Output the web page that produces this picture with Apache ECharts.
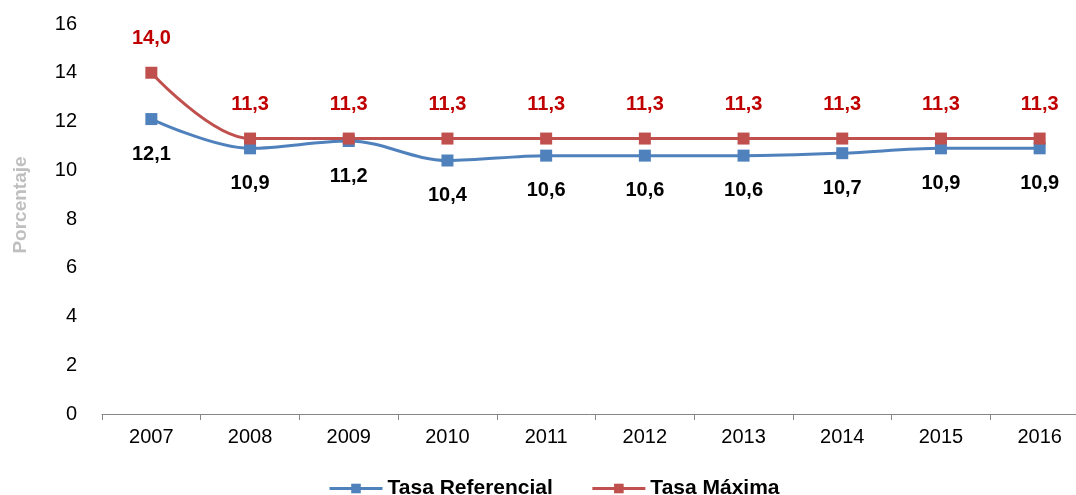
<!DOCTYPE html>
<html>
<head>
<meta charset="utf-8">
<script src="https://cdn.jsdelivr.net/npm/echarts@6/dist/echarts.min.js"></script>
<style>
html, body { margin: 0; padding: 0; background: #fff; }
#chart { width: 1076px; height: 495px; }
</style>
</head>
<body>
<div id="chart"></div>
<script>
// datos de tasas
const years = ['2007', '2008', '2009', '2010', '2011', '2012', '2013', '2014', '2015', '2016'];
const tasaReferencial = [12.1, 10.9, 11.2, 10.4, 10.6, 10.6, 10.6, 10.7, 10.9, 10.9];
const tasaMaxima = [14.0, 11.3, 11.3, 11.3, 11.3, 11.3, 11.3, 11.3, 11.3, 11.3];

const chart = echarts.init(document.getElementById('chart'));
const fmt = p => p.value.toFixed(1).replace('.', ',');

chart.setOption({
    animation: false,
    textStyle: { fontFamily: 'Liberation Sans, Arial, sans-serif' },
    grid: { left: 102, width: 987, top: 24, bottom: 81, outerBoundsMode: 'none' },
    legend: {
        top: 473,
        left: 323,
        itemWidth: 53,
        itemHeight: 12,
        itemGap: 38,
        lineStyle: { width: 3 },
        textStyle: { fontSize: 21, fontWeight: 'bold', color: '#000' },
        data: ['Tasa Referencial', 'Tasa Máxima']
    },
    xAxis: {
        type: 'category',
        data: years,
        boundaryGap: true,
        axisLine: { lineStyle: { color: '#868686', width: 1 } },
        axisTick: { show: true, length: 6, lineStyle: { color: '#868686' } },
        axisLabel: { fontSize: 20, color: '#000', margin: 13 }
    },
    yAxis: {
        type: 'value',
        min: 0,
        max: 16,
        interval: 2,
        name: 'Porcentaje',
        nameLocation: 'middle',
        nameGap: 72,
        nameRotate: 90,
        nameTextStyle: { fontSize: 19, fontWeight: 'bold', color: '#bfbfbf', padding: [0, 0, 0, 28] },
        axisLine: { show: false },
        axisTick: { show: false },
        splitLine: { show: false },
        axisLabel: { fontSize: 20, color: '#000', margin: 25 }
    },
    series: [
        {
            name: 'Tasa Referencial',
            type: 'line',
            data: tasaReferencial,
            smooth: 0.35,
            symbol: 'rect',
            symbolSize: 12,
            lineStyle: { color: '#4f81bd', width: 3 },
            itemStyle: { color: '#4f81bd' },
            label: {
                show: true,
                position: 'bottom',
                distance: 19,
                formatter: fmt,
                fontSize: 20,
                fontWeight: 'bold',
                color: '#000'
            }
        },
        {
            name: 'Tasa Máxima',
            type: 'line',
            data: tasaMaxima,
            smooth: 0.35,
            symbol: 'rect',
            symbolSize: 12,
            lineStyle: { color: '#c0504d', width: 3 },
            itemStyle: { color: '#c0504d' },
            label: {
                show: true,
                position: 'top',
                distance: 18,
                formatter: fmt,
                fontSize: 20,
                fontWeight: 'bold',
                color: '#c00000'
            }
        }
    ]
});
</script>
</body>
</html>
